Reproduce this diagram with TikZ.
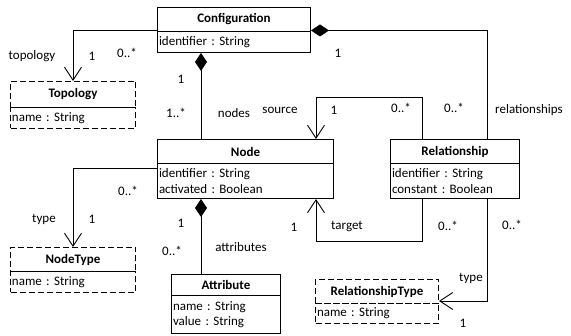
\documentclass[tikz,border=0pt]{standalone}
\usepackage{fontspec}
\setmainfont{Carlito}
\usetikzlibrary{arrows.meta,calc}
\frenchspacing
\begin{document}
\frenchspacing
\begin{tikzpicture}[x=1pt,y=-1pt,
  every node/.style={font=\fontsize{13}{15.5}\selectfont},
  hdr/.style={draw, line width=1pt, inner sep=0pt, anchor=north west, font=\fontsize{13}{15.5}\selectfont\bfseries},
  cmp/.style={draw, line width=1pt, inner xsep=1.5pt, inner ysep=0pt, anchor=north west, align=left},
  dsh/.style={dash pattern=on 6pt off 3pt},
  conn/.style={line width=0.9pt},
  assoc/.style={conn, -{Straight Barb[length=13pt,width=17pt]}},
  compos/.style={conn, {Diamond[length=18pt,width=12pt]}-},
  lbl/.style={inner sep=0pt}]
\useasboundingbox (0,0) rectangle (571,336);
% classes
\node[hdr, minimum width=153, minimum height=24] (cfgH) at (157,7) {Configuration};
\node[cmp, minimum height=21, text width=150] (cfgA) at (157,31) {identifier : String};

\node[hdr, dsh, minimum width=125, minimum height=26] (topH) at (10,81) {Topology};
\node[cmp, dsh, minimum height=21, text width=122] (topA) at (10,107) {name : String};

\node[hdr, minimum width=176, minimum height=24] (nodeH) at (157,139) {Node};
\node[cmp, minimum height=35, text width=173] (nodeA) at (157,163) {identifier : String\\activated : Boolean};

\node[hdr, minimum width=129, minimum height=24] (relH) at (390,139) {Relationship};
\node[cmp, minimum height=35, text width=126] (relA) at (390,163) {identifier : String\\constant : Boolean};

\node[hdr, dsh, minimum width=125, minimum height=24] (ntH) at (10,247) {NodeType};
\node[cmp, dsh, minimum height=21, text width=122] (ntA) at (10,271) {name : String};

\node[hdr, minimum width=109, minimum height=21] (attrH) at (171,274) {Attribute};
\node[cmp, minimum height=38, text width=106] (attrA) at (171,295) {name : String\\value : String};

\node[hdr, dsh, minimum width=123, minimum height=24] (rtH) at (315,279) {RelationshipType};
\node[cmp, dsh, minimum height=20, text width=120] (rtA) at (315,303) {name : String};

% connectors
\draw[assoc] ([yshift=1.5pt]cfgH.south west) -| (topH.north);
\draw[compos] ([yshift=1.5pt]cfgH.south east) -| ($(relH.north west)+(97,0)$);
\draw[compos] ($(cfgA.south west)+(44,0)$) -- ($(nodeH.north west)+(44,0)$);
\draw[assoc] ([yshift=-5pt]nodeA.north west) -| (ntH.north);
\draw[compos] ($(nodeA.south west)+(44,0)$) -- ($(attrH.north west)+(30,0)$);
\draw[assoc] ($(relH.north west)+(32,0)$) -- ++(0,-42) -| ($(nodeH.north east)+(-18,0)$);
\draw[assoc] ($(relA.south west)+(32,0)$) -- ++(0,42) -| ($(nodeA.south east)+(-18,0)$);
\draw[assoc] ($(relA.south west)+(97,0)$) |- ([yshift=2pt]rtA.north east);

% labels
\node[lbl] (l1) at (32,56) {topology};
\node[lbl] (l2) at (92,56) {1};
\node[lbl] (l3) at (127,53) {0..*};
\node[lbl] (l4) at (181,79) {1};
\node[lbl] (l5) at (176,113) {1..*};
\node[lbl] (l6) at (234,113) {nodes};
\node[lbl] (l7) at (280,110) {source};
\node[lbl] (l8) at (338,53) {1};
\node[lbl] (l9) at (334,110) {1};
\node[lbl] (l10) at (401,108) {0..*};
\node[lbl] (l11) at (454,108) {0..*};
\node[lbl] (l12) at (529,110) {relationships};
\node[lbl] (l13) at (128,191) {0..*};
\node[lbl] (l14) at (44,219) {type};
\node[lbl] (l15) at (92,219) {1};
\node[lbl] (l16) at (181,223) {1};
\node[lbl] (l17) at (172,251) {0..*};
\node[lbl] (l18) at (241,247) {attributes};
\node[lbl] (l19) at (294,227) {1};
\node[lbl] (l20) at (347,227) {target};
\node[lbl] (l21) at (448,226) {0..*};
\node[lbl] (l22) at (512,225) {0..*};
\node[lbl] (l23) at (471,278) {type};
\node[lbl] (l24) at (463,323) {1};
\end{tikzpicture}
\end{document}
